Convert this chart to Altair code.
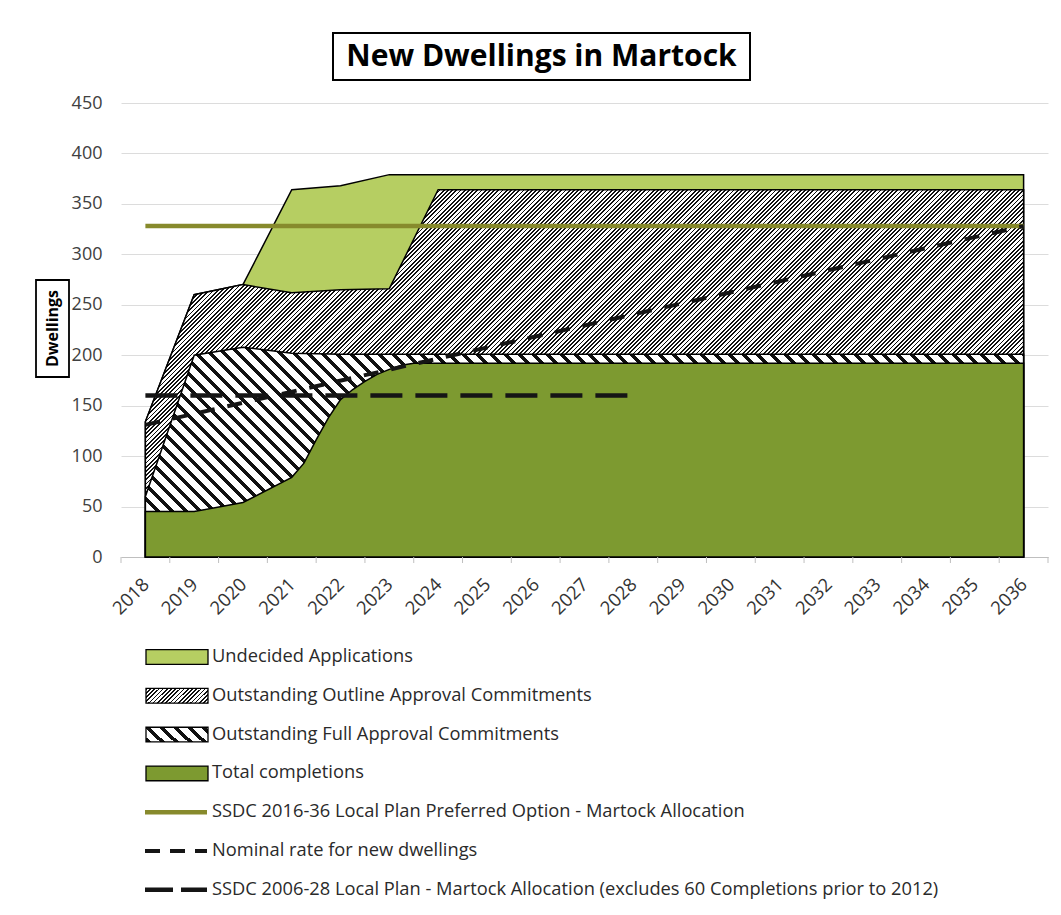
import math
import altair as alt
import pandas as pd

# ---------------- data ----------------
years = list(range(2018, 2037))
completions = [45, 45, 54, 79, 156, 186] + [192] * 13
full_approval = [15, 155, 154, 123, 45, 15] + [9] * 13
outline_approval = [74, 60, 62, 60, 64, 65] + [163] * 13
undecided = [0, 0, 0, 102, 103, 113] + [15] * 13

# extra points of the curved completions edge between 2021 and 2024
curve_years = [2021.25, 2021.5, 2021.75, 2022.25, 2022.5, 2022.75, 2023.25, 2023.5]
curve_completions = [93, 116, 138, 166, 174, 181, 190, 192]

plan2016_years = [2018, 2036]
plan2016_values = [328, 328]
nominal_years = [2018, 2036]
nominal_values = [131, 328]
plan2006_years = [2018, 2028]
plan2006_values = [160, 160]

y_tick_values = list(range(0, 451, 50))
x_tick_bounds = [y - 0.5 for y in years] + [years[-1] + 0.5]

legend_labels = [
    "Undecided Applications",
    "Outstanding Outline Approval Commitments",
    "Outstanding Full Approval Commitments",
    "Total completions",
    "SSDC 2016-36 Local Plan Preferred Option - Martock Allocation",
    "Nominal rate for new dwellings",
    "SSDC 2006-28 Local Plan - Martock Allocation (excludes 60 Completions prior to 2012)",
]

# ---------------- tables ----------------
df = pd.DataFrame({
    "year": years,
    "completions": completions,
    "full": full_approval,
    "outline": outline_approval,
    "undecided": undecided,
})
df["full_top"] = df["completions"] + df["full"]
df["outline_top"] = df["full_top"] + df["outline"]
df["undecided_top"] = df["outline_top"] + df["undecided"]

comp_df = pd.concat([
    df[["year", "completions"]],
    pd.DataFrame({"year": curve_years, "completions": curve_completions}),
]).sort_values("year").reset_index(drop=True)

plan2016_df = pd.DataFrame({"year": plan2016_years, "v": plan2016_values})
nominal_df = pd.DataFrame({"year": nominal_years, "v": nominal_values})
plan2006_df = pd.DataFrame({"year": plan2006_years, "v": plan2006_values})
ticks_df = pd.DataFrame({"b": x_tick_bounds})
legend_df = pd.DataFrame({"row": list(range(len(legend_labels))), "label": legend_labels})

# ---------------- styling ----------------
W, H = 927, 454
YMAX = 450
px_year = W / 19.0
px_unit = H / YMAX

DARK_GREEN = "#7d9a30"
LIGHT_GREEN = "#b6ce62"
OLIVE = "#878a2c"
FONT = "Open Sans"


def hatch(w, h, period, frac, up=True):
    n = (w + h) / period
    k = (w + h) / (w * w + h * h)
    stops = []
    for i in range(int(math.ceil(n))):
        a = min(i / n, 1.0)
        b = min((i + frac) / n, 1.0)
        c = min((i + 1) / n, 1.0)
        stops += [
            {"offset": a, "color": "#111111"},
            {"offset": b, "color": "#111111"},
            {"offset": b, "color": "#ffffff"},
            {"offset": c, "color": "#ffffff"},
        ]
    if up:
        return {"gradient": "linear", "x1": 0, "y1": 0, "x2": k * w, "y2": k * h, "stops": stops}
    return {"gradient": "linear", "x1": 0, "y1": 1, "x2": k * w, "y2": 1 - k * h, "stops": stops}


area_w = 18 * px_year
fine_fill = hatch(area_w, df["outline_top"].max() * px_unit, 4.2, 0.40, up=True)
coarse_fill = hatch(area_w, df["full_top"].max() * px_unit, 14.0, 0.36, up=False)

x_scale = alt.Scale(domain=[2017.5, 2036.5], nice=False, zero=False)
y_scale = alt.Scale(domain=[0, YMAX], nice=False)
x_axis = alt.Axis(values=years, format="d", labelAngle=-45, labelAlign="right",
                  labelBaseline="middle", grid=False, ticks=False, tickSize=0,
                  labelPadding=24, domainColor="#bfbfbf", domainWidth=1,
                  labelFontSize=18.5, labelFont=FONT, labelColor="#333333", title=None)
y_axis = alt.Axis(values=y_tick_values, grid=True, gridColor="#dcdcdc", domain=False,
                  ticks=False, tickSize=0, labelPadding=19, labelFontSize=18,
                  labelFont=FONT, labelColor="#404040", title=None)


def X(f):
    return alt.X(f, scale=x_scale, axis=x_axis)


def Y(f):
    return alt.Y(f, scale=y_scale, axis=y_axis)


base = alt.Chart(df)
undecided_area = base.mark_area(fill=LIGHT_GREEN, stroke="black", strokeWidth=1.5).encode(
    x=X("year:Q"), y=Y("undecided_top:Q"))
outline_area = base.mark_area(fill=fine_fill, stroke="black", strokeWidth=1.5).encode(
    x=X("year:Q"), y=Y("outline_top:Q"))
full_area = base.mark_area(fill=coarse_fill, stroke="black", strokeWidth=1.5).encode(
    x=X("year:Q"), y=Y("full_top:Q"))
comp_area = alt.Chart(comp_df).mark_area(fill=DARK_GREEN, stroke="black", strokeWidth=1.5).encode(
    x=X("year:Q"), y=Y("completions:Q"))

plan2016_line = alt.Chart(plan2016_df).mark_line(color=OLIVE, strokeWidth=4.5).encode(
    x=X("year:Q"), y=Y("v:Q"))
nominal_line = alt.Chart(nominal_df).mark_line(color="#151515", strokeWidth=4, strokeDash=[15, 13]).encode(
    x=X("year:Q"), y=Y("v:Q"))
plan2006_line = alt.Chart(plan2006_df).mark_line(color="#151515", strokeWidth=4.5, strokeDash=[32, 13]).encode(
    x=X("year:Q"), y=Y("v:Q"))
tick_marks = alt.Chart(ticks_df).mark_rule(color="#bfbfbf", strokeWidth=1).encode(
    x=X("b:Q"), y=alt.value(H), y2=alt.value(H + 6))

main = alt.layer(undecided_area, outline_area, full_area, comp_area,
                 plan2016_line, nominal_line, plan2006_line, tick_marks)

# ---------------- legend (below the plot) ----------------
ly_scale = alt.Scale(domain=[0, len(legend_labels) - 1], range=[554, 554 + 6 * 38.8])
leg = alt.Chart(legend_df).transform_calculate(top="datum.row - 0.19", bot="datum.row + 0.19")
LY = lambda f: alt.Y(f, scale=ly_scale, axis=None)

patch_fills = [LIGHT_GREEN, hatch(62, 15, 4.2, 0.40, True), hatch(62, 15, 14.0, 0.36, False), DARK_GREEN]
patches = [
    leg.transform_filter(f"datum.row == {i}").mark_rect(fill=pf, stroke="black", strokeWidth=1.3).encode(
        x=alt.value(25), x2=alt.value(87), y=LY("top:Q"), y2="bot:Q")
    for i, pf in enumerate(patch_fills)
]
leg_olive = leg.transform_filter("datum.row == 4").mark_rule(color=OLIVE, strokeWidth=4.5).encode(
    x=alt.value(24), x2=alt.value(86), y=LY("row:Q"))
leg_nominal = leg.transform_filter("datum.row == 5").mark_rule(color="#151515", strokeWidth=4, strokeDash=[15, 10]).encode(
    x=alt.value(24), x2=alt.value(86), y=LY("row:Q"))
leg_2006 = leg.transform_filter("datum.row == 6").mark_rule(color="#151515", strokeWidth=4.5, strokeDash=[28, 8]).encode(
    x=alt.value(24), x2=alt.value(86), y=LY("row:Q"))
leg_text = leg.mark_text(align="left", baseline="middle", font=FONT, fontSize=18.3, color="#2a2a2a").encode(
    x=alt.value(91), y=LY("row:Q"), text="label:N")

legend = alt.layer(*patches, leg_olive, leg_nominal, leg_2006, leg_text)

# ---------------- boxed title and axis title ----------------
one = pd.DataFrame({"k": [0]})
title_box = alt.Chart(one).mark_rect(fill="white", stroke="black", strokeWidth=2).encode(
    x=alt.value(212), x2=alt.value(629), y=alt.value(-70), y2=alt.value(-23))
title_text = alt.Chart(one).mark_text(text="New Dwellings in Martock", font=FONT, fontSize=30,
                                      fontWeight="bold", color="black", align="center",
                                      baseline="middle").encode(x=alt.value(420.5), y=alt.value(-46))
ylab_box = alt.Chart(one).mark_rect(fill="white", stroke="black", strokeWidth=1.8).encode(
    x=alt.value(-85), x2=alt.value(-52), y=alt.value(177), y2=alt.value(274))
ylab_text = alt.Chart(one).mark_text(text="Dwellings", font=FONT, fontSize=16, fontWeight="bold",
                                     color="black", angle=270, align="center",
                                     baseline="middle").encode(x=alt.value(-68.5), y=alt.value(225.5))
annot = alt.layer(title_box, title_text, ylab_box, ylab_text)

chart = alt.layer(main, legend, annot).resolve_scale(x="independent", y="independent").properties(
    width=W, height=H,
    background="white",
    padding={"left": 113, "top": 95, "right": 5, "bottom": 344},
    autosize=alt.AutoSizeParams(type="none"),
).configure_view(stroke="transparent", strokeWidth=0)

chart.save("out.html", embed_options={"renderer": "svg", "actions": False})
